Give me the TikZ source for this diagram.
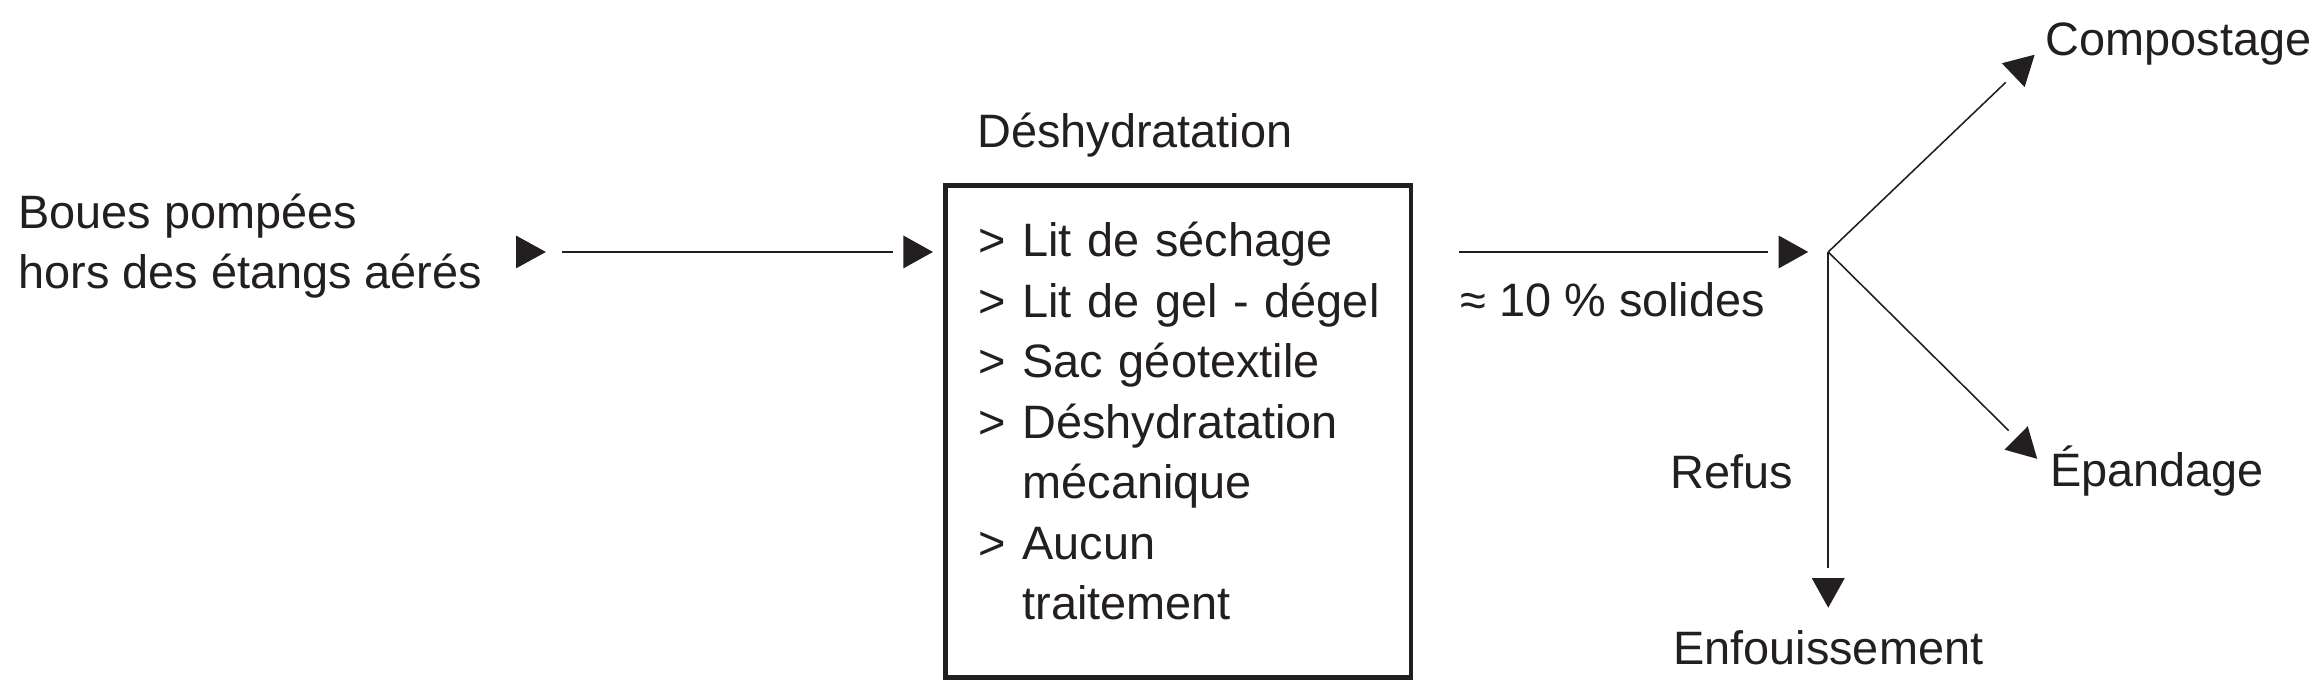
\documentclass[tikz,border=0pt]{standalone}
\usepackage{fontspec}
\setmainfont{Liberation Sans}
\usetikzlibrary{arrows.meta, calc}
\definecolor{ink}{HTML}{231F20}
\newcommand{\itm}[1]{\mbox{\makebox[17pt][l]{>}#1}}
\newcommand{\itmcont}[1]{\mbox{\hspace*{17pt}#1}}
% line, small gap, then the head: #1 from, #2 to, #3/#4 shortening at start/end
\newcommand{\gapflow}[4]{%
  \draw[flow, shorten <=#3] (#1) -- ($(#2)!#4+5.4mm!(#1)$);
  \draw[flowtip] ($(#2)!#4+3.9mm!(#1)$) -- ($(#2)!#4!(#1)$);
}
\tikzset{
  flowtext/.style={
    font=\fontsize{18}{23.2}\selectfont,
    text=ink,
    inner sep=0pt,
    align=left
  },
  stagebox/.style={
    rectangle,
    draw=ink,
    line width=1.8pt,
    minimum width=6.28cm,
    minimum height=6.64cm,
    inner xsep=0.44cm,
    inner ysep=0pt,
    text width=5.4cm,
    align=left,
    text=ink,
    font=\fontsize{18}{23.2}\selectfont
  },
  flow/.style={line width=0.6pt, draw=ink},
  flowtip/.style={-{Triangle[length=4mm, width=4.4mm]}, line width=0.6pt, draw=ink}
}

\begin{document}
\begin{tikzpicture}[x=0.02cm, y=-0.02cm]
\useasboundingbox (0,0) rectangle (1568,470);

% Source.
\node[flowtext, anchor=west] (boues) at (12,166) {Boues pompées\\hors des étangs aérés};
\coordinate (inhead) at (358.3,170);
\fill[ink] ([xshift=-0.2cm, yshift=0.22cm]inhead) -- ([xshift=0.2cm]inhead)
  -- ([xshift=-0.2cm, yshift=-0.22cm]inhead) -- cycle;

% Dewatering.
\node[flowtext, anchor=west] (dehydtitle) at (659,91) {Déshydratation};
\node[stagebox] (dehyd) at (795,291) {\itm{Lit de séchage}\\
  \itm{Lit de gel - dégel}\\
  \itm{Sac géotextile}\\
  \itm{Déshydratation}\\
  \itmcont{mécanique}\\
  \itm{Aucun}\\
  \itmcont{traitement}\rule[-0.28cm]{0pt}{0.28cm}};

% Branching.
\coordinate (split) at (1233.5,170);
\node[flowtext, anchor=west] (solides) at (985,202) {≈ 10~\% solides};
\node[flowtext, anchor=west] (compost) at (1380,30) {Compostage};
\node[flowtext, anchor=west] (epand) at (1383,318) {Épandage};
\node[flowtext, anchor=west] (refus) at (1127,318) {Refus};
\node[flowtext] (enfouis) at (1233.5,437) {Enfouissement};

% Main flow.
\coordinate (boxin) at (inhead -| dehyd.west);
\coordinate (boxout) at (split -| dehyd.east);
\gapflow{inhead}{boxin}{0.42cm}{0.14cm}
\gapflow{boxout}{split}{0.62cm}{0.27cm}
\gapflow{split}{compost.west}{0pt}{0.2cm}
\gapflow{split}{epand.west}{0pt}{0.24cm}
\gapflow{split}{enfouis.north}{0pt}{0.3cm}

\end{tikzpicture}
\end{document}
